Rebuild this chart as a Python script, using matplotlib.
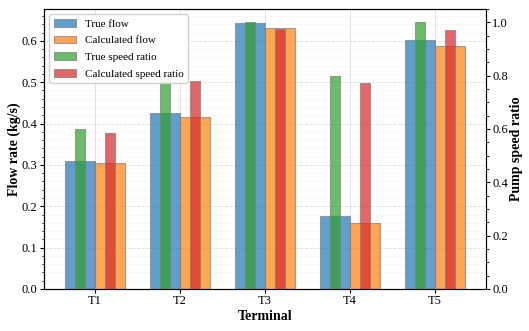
import matplotlib
matplotlib.use("Agg")
import matplotlib.pyplot as plt
import numpy as np
from matplotlib.ticker import MultipleLocator, AutoMinorLocator

plt.rcParams['font.family'] = ['Liberation Serif', 'DejaVu Serif']

terminals = ["T1", "T2", "T3", "T4", "T5"]
true_flow = [0.309, 0.425, 0.643, 0.177, 0.602]
calc_flow = [0.305, 0.417, 0.630, 0.159, 0.588]
true_speed = [0.600, 0.800, 1.000, 0.800, 1.000]
calc_speed = [0.585, 0.778, 0.976, 0.773, 0.971]

colors = ["#1f77b4", "#ff7f0e", "#2ca02c", "#d62728"]

fig, ax = plt.subplots(figsize=(5.29, 3.31), dpi=100)
ax2 = ax.twinx()
x = np.arange(len(terminals))
w = 0.35
ws = w / 3

ax.grid(True, which="major", axis="x", color="#dddddd", linewidth=0.6)
ax.grid(True, which="major", axis="y", color="#dddddd", linewidth=0.6, linestyle="--")
ax.grid(True, which="minor", axis="y", color="#e8e8e8", linewidth=0.5, linestyle=":")
ax.set_axisbelow(True)

h1 = ax.bar(x - w/2, true_flow, w, color=colors[0], alpha=0.7, edgecolor="gray", linewidth=0.8, label="True flow", zorder=2)
h2 = ax.bar(x + w/2, calc_flow, w, color=colors[1], alpha=0.7, edgecolor="gray", linewidth=0.8, label="Calculated flow", zorder=2)
h3 = ax2.bar(x - w/2, true_speed, ws, color=colors[2], alpha=0.7, edgecolor="gray", linewidth=0.8, label="True speed ratio", zorder=2)
h4 = ax2.bar(x + w/2, calc_speed, ws, color=colors[3], alpha=0.7, edgecolor="gray", linewidth=0.8, label="Calculated speed ratio", zorder=2)

ax.set_xlim(-0.6, 4.6)
ax.set_ylim(0, max(true_flow) * 1.053)
ax2.set_ylim(0, 1.05)
ax.set_xticks(x)
ax.set_xticklabels(terminals)
ax.yaxis.set_major_locator(MultipleLocator(0.1))
ax.yaxis.set_minor_locator(AutoMinorLocator(5))
ax2.yaxis.set_major_locator(MultipleLocator(0.2))
ax2.yaxis.set_minor_locator(AutoMinorLocator(4))

ax.set_xlabel("Terminal", fontsize=10, fontweight="bold", labelpad=2)
ax.set_ylabel("Flow rate (kg/s)", fontsize=10, fontweight="bold", labelpad=1)
ax2.set_ylabel("Pump speed ratio", fontsize=10, fontweight="bold", labelpad=1)
ax.tick_params(axis="both", which="major", labelsize=9, length=3, pad=1.5)
ax.tick_params(axis="both", which="minor", length=1.8)
ax2.tick_params(axis="y", which="major", labelsize=9, length=3, pad=1.5)
ax2.tick_params(axis="y", which="minor", length=1.8)

leg = ax2.legend([h1, h2, h3, h4], ["True flow", "Calculated flow", "True speed ratio", "Calculated speed ratio"],
                 loc="upper left", fontsize=8, framealpha=0.9, labelspacing=0.62)
leg.set_zorder(10)

fig.subplots_adjust(left=0.083, right=0.919, bottom=0.127, top=0.973)
fig.savefig("out.png", dpi=100)
